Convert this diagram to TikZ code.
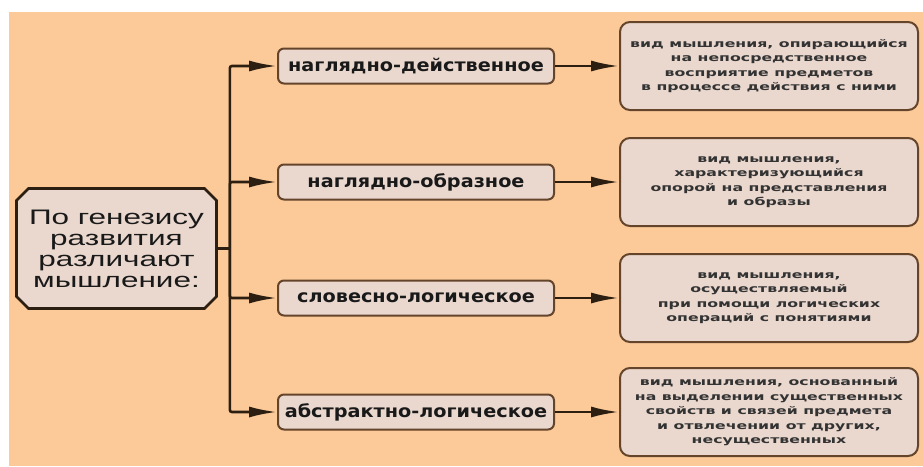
\documentclass[tikz,border=0pt]{standalone}
\usepackage{fontspec}
\setmainfont{Liberation Sans}
\newfontfamily\genfont[FakeStretch=1.5]{Liberation Sans}
\newfontfamily\kindfont[FakeStretch=1.1]{DejaVu Sans}
\newfontfamily\descfont[FakeStretch=1.5]{DejaVu Sans}
\usetikzlibrary{shapes.misc, arrows.meta, positioning}

\definecolor{bgorange}{RGB}{251,202,152}
\definecolor{boxfill}{RGB}{234,216,206}
\definecolor{edge}{RGB}{45,30,18}
\definecolor{softedge}{RGB}{100,68,42}

\begin{document}
\begin{tikzpicture}[
        x=1pt, y=1pt,
        % Global Styles
        genbox/.style={chamfered rectangle, chamfered rectangle xsep=6pt, chamfered rectangle ysep=6pt, draw=edge, line width=2.8pt, fill=boxfill, minimum width=200pt, minimum height=120pt, align=center, font=\genfont\fontsize{21}{21}\selectfont, text=black!90},
        kind/.style={rectangle, draw=softedge, line width=2pt, fill=boxfill, rounded corners=6pt, minimum width=276pt, minimum height=35pt, font=\kindfont\bfseries\fontsize{17.5}{18}\selectfont, text=black!90},
        desc/.style={rectangle, draw=softedge, line width=2pt, fill=boxfill, rounded corners=10pt, minimum width=298pt, minimum height=88pt, align=center, font=\descfont\bfseries\fontsize{10.5}{14.5}\selectfont, text=black!80},
        line/.style={draw=edge, -{Latex[length=28pt, width=11pt]}, line width=2.6pt, rounded corners=2pt}, % Arrow
        connector/.style={draw=edge, line width=2.8pt} % Line without arrow head
    ]

    % Background and frame
    \fill [white] (0,0) rectangle (923,-466);
    \fill [bgorange] (9,-12) rectangle (923,-466);
    \useasboundingbox (0,0) rectangle (923,-466);

    % --- Nodes ---

    % 1. Root Node
    \node [genbox] (gen) at (116.5,-248.5) {По генезису\\развития\\различают\\мышление:};

    % 2. Kinds of thinking (Stacked)
    \node [kind] (visact) at (416,-66) {наглядно-действенное};
    \node [kind, below=79pt of visact] (visfig) {наглядно-образное};
    \node [kind, below=79pt of visfig] (verbal) {словесно-логическое};
    \node [kind, below=77pt of verbal] (abstr) {абстрактно-логическое};

    % 3. Descriptions
    \node [desc, right=64pt of visact] (visactd) {вид мышления, опирающийся\\на непосредственное\\восприятие предметов\\в процессе действия с ними};
    \node [desc, right=64pt of visfig] (visfigd) {вид мышления,\\характеризующийся\\опорой на представления\\и образы};
    \node [desc, right=64pt of verbal] (verbald) {вид мышления,\\осуществляемый\\при помощи логических\\операций с понятиями};
    \node [desc, right=64pt of abstr] (abstrd) {вид мышления, основанный\\на выделении существенных\\свойств и связей предмета\\и отвлечении от других,\\несущественных};

    % --- Paths ---

    % Root to Kinds
    \coordinate [right=12pt of gen] (split);
    \draw [connector] (gen) -- (split);
    \draw [line] (split) |- (visact.west);
    \draw [line] (split) |- (visfig.west);
    \draw [line] (split) |- (verbal.west);
    \draw [line] (split) |- (abstr.west);

    % Kinds to Descriptions
    \draw [line] (visact.east) -- (visact.east -| visactd.west);
    \draw [line] (visfig.east) -- (visfig.east -| visfigd.west);
    \draw [line] (verbal.east) -- (verbal.east -| verbald.west);
    \draw [line] (abstr.east) -- (abstr.east -| abstrd.west);

\end{tikzpicture}
\end{document}
